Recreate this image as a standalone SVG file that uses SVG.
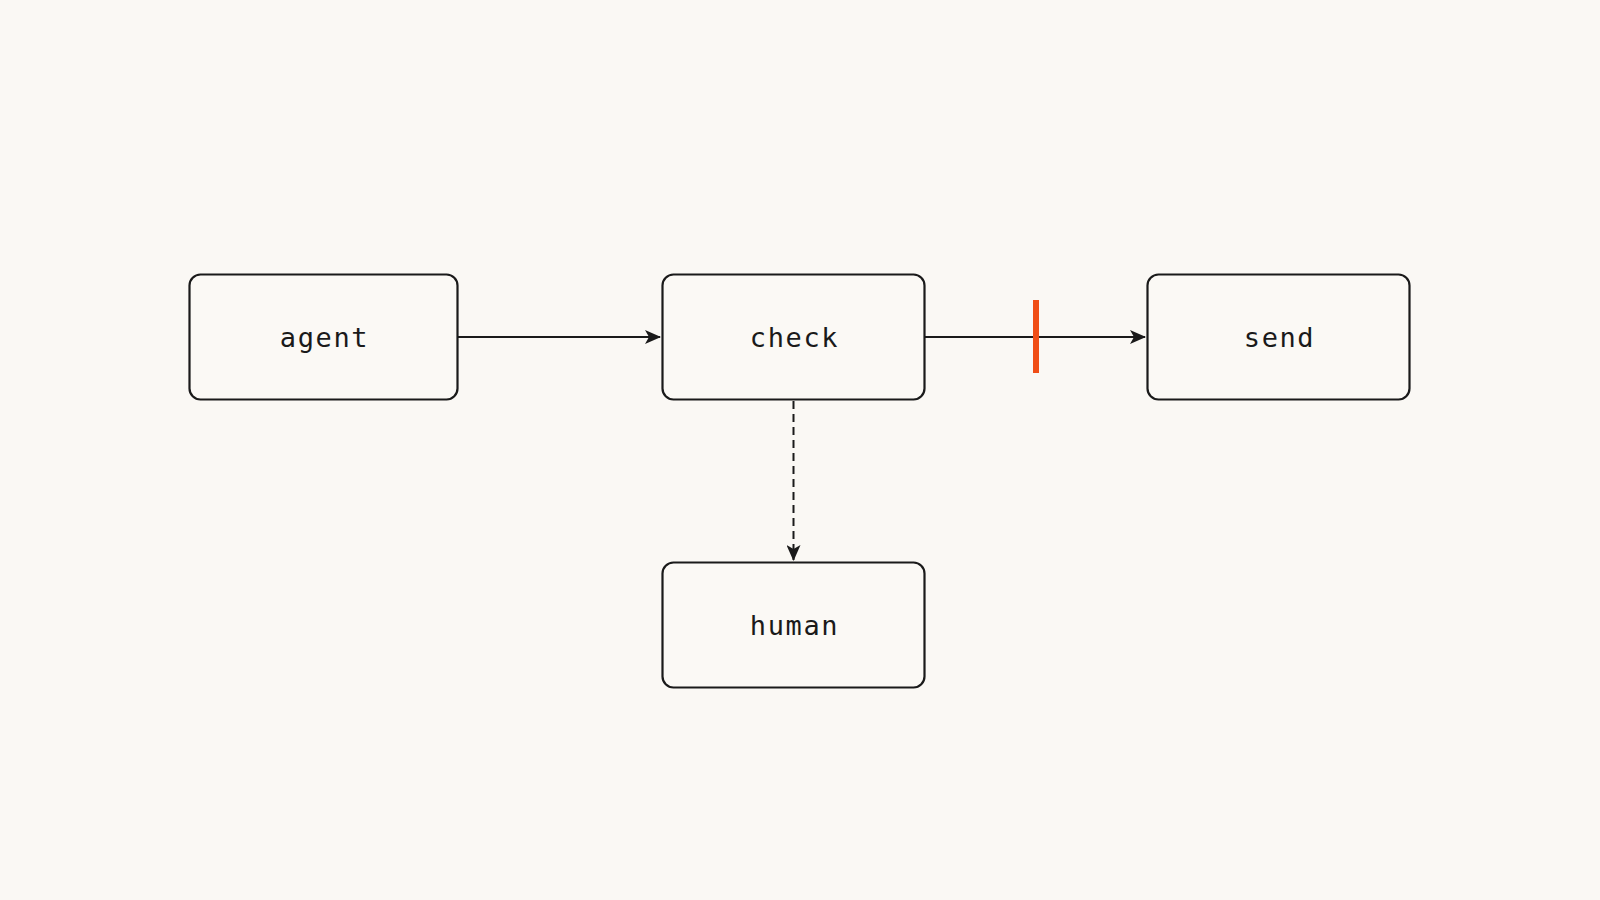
<svg xmlns="http://www.w3.org/2000/svg" width="1600" height="900" viewBox="0 0 1600 900">
<defs>
<style>
.box{fill:#FBF9F5;stroke:#1a1a1a;stroke-width:2.2}
.lbl{font-family:"DejaVu Sans Mono","Liberation Mono",monospace;font-size:27px;fill:#1a1a1a;text-anchor:middle;letter-spacing:1.6px}
.edge{stroke:#1a1a1a;stroke-width:2;fill:none}
</style>
<marker id="arr" viewBox="0 0 16 14" refX="15" refY="7" markerWidth="16" markerHeight="14" markerUnits="userSpaceOnUse" orient="auto">
<path d="M0,0 L16,7 L0,14 L4,7 Z" fill="#1a1a1a"/>
</marker>
</defs>
<rect width="1600" height="900" fill="#FAF8F4"/>
<g id="connectors">
<line class="edge" x1="458" y1="337" x2="660" y2="337" marker-end="url(#arr)"/>
<line class="edge" x1="925" y1="337" x2="1145" y2="337" marker-end="url(#arr)"/>
<line class="edge" x1="793.5" y1="401" x2="793.5" y2="560" stroke-dasharray="8,5" marker-end="url(#arr)"/>
<line x1="1036" y1="300" x2="1036" y2="373" stroke="#F04E16" stroke-width="6"/>
</g>
<g id="agent">
<rect class="box" x="189.5" y="274.5" width="268" height="125" rx="11"/>
<text class="lbl" x="324.5" y="347">agent</text>
</g>
<g id="check">
<rect class="box" x="662.5" y="274.5" width="262" height="125" rx="11"/>
<text class="lbl" x="794.5" y="347">check</text>
</g>
<g id="send">
<rect class="box" x="1147.5" y="274.5" width="262" height="125" rx="11"/>
<text class="lbl" x="1279.5" y="347">send</text>
</g>
<g id="human">
<rect class="box" x="662.5" y="562.5" width="262" height="125" rx="11"/>
<text class="lbl" x="794.5" y="635">human</text>
</g>
</svg>
